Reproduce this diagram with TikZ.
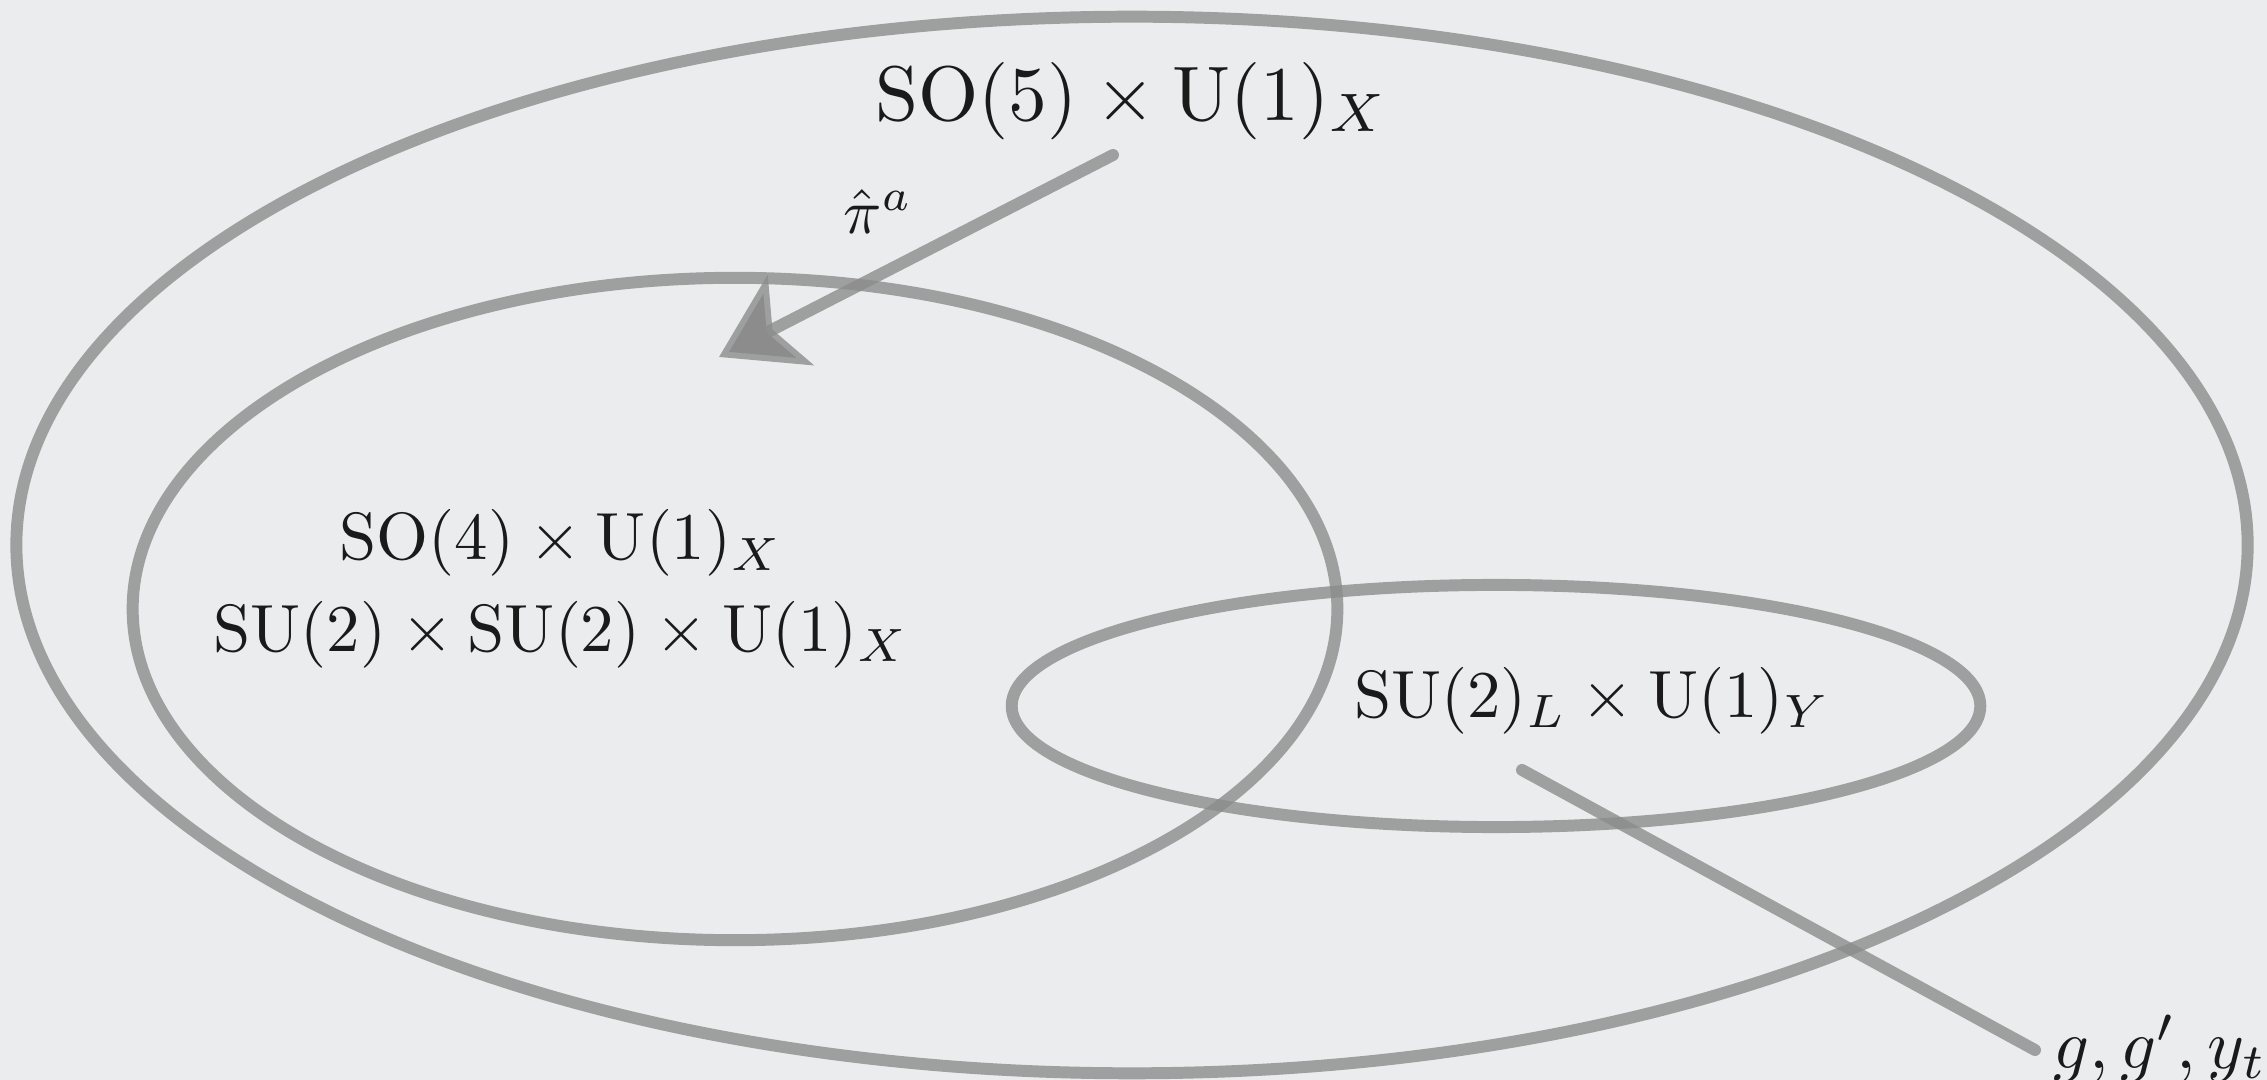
\documentclass[tikz,border=0pt]{standalone}
\usepackage{amsmath,graphicx}
\usetikzlibrary{positioning,arrows.meta,shapes.geometric}
\definecolor{chalk}{HTML}{8C8C8C}
\definecolor{board}{HTML}{EAECEE}
\definecolor{ink}{HTML}{1A1A1A}
\newcommand{\boardtext}[2][1.9]{\scalebox{#1}{#2}}

\begin{document}
\begin{tikzpicture}[x=0.01cm, y=-0.01cm,
  ring/.style={ellipse, draw=chalk, draw opacity=0.8, line width=3.4pt, inner sep=0pt, outer sep=0pt},
  lbl/.style={text=ink, align=center, inner sep=0pt},
  stroke/.style={draw=chalk, draw opacity=0.8, line width=3.4pt, line cap=round}]
  \useasboundingbox[fill=board] (0,0) rectangle (2267,1080);
  \node[ring, minimum width=22.30cm, minimum height=10.56cm] (so5) at (1132,545) {};
  \node[ring, minimum width=12.04cm, minimum height=6.62cm] (so4) at (735,609) {};
  \node[ring, minimum width=9.68cm, minimum height=2.42cm] (sm) at (1496,706) {};
  \node[lbl] (top) at (1132,101) {\boardtext[2.2]{$\mathrm{SO}(5)\times\mathrm{U}(1)_X$}};
  \node[lbl] (mid) at (561,589) {\boardtext{$\mathrm{SO}(4)\times\mathrm{U}(1)_X$}\\[6pt] \boardtext{$\mathrm{SU}(2)\times\mathrm{SU}(2)\times\mathrm{U}(1)_X$}};
  \node[lbl] (sml) at (1592,701) {\boardtext{$\mathrm{SU}(2)_L\times\mathrm{U}(1)_Y$}};
  \node[lbl, anchor=base] (cpl) at (2160,1068) {\boardtext[2]{$g, g', y_t$}};
  \node[lbl] (pi) at (878,212) {\boardtext[1.8]{$\hat{\pi}^a$}};
  % arrow ends
  \coordinate (pistart) at (1113,155);
  \coordinate (pitip) at (719,357);
  \coordinate (gstart) at (1522,770);
  \coordinate (gend) at (2035,1050);
  \draw[stroke, -{Stealth[length=8mm, width=10mm, inset=2mm]}] (pistart) -- (pitip);
  \draw[stroke] (gstart) -- (gend);
\end{tikzpicture}
\end{document}
